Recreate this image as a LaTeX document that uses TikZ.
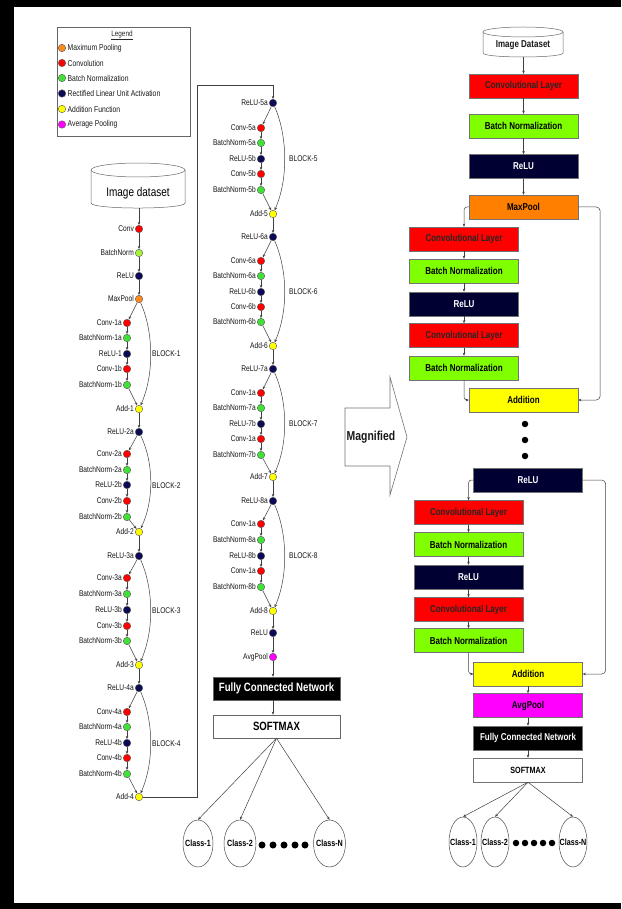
\documentclass[tikz,border=0pt]{standalone}
\usepackage{fontspec}
\setmainfont{Liberation Sans}[FakeStretch=0.8]
\usetikzlibrary{arrows.meta,shapes.geometric}
\definecolor{cRed}{HTML}{FF0000}
\definecolor{cGrn}{HTML}{44E03A}
\definecolor{cYG}{HTML}{A6F23A}
\definecolor{cNavy}{HTML}{0A0A55}
\definecolor{cOrg}{HTML}{FF8A1C}
\definecolor{cYel}{HTML}{FFFF00}
\definecolor{cMag}{HTML}{FF00FF}
\definecolor{bGrn}{HTML}{80FF00}
\definecolor{bNavy}{HTML}{000033}
\definecolor{bOrg}{HTML}{FF8000}
\newcommand\mknode[5]{\node[dot,fill=#4,label={[lb]left:#5}] (#1) at (#2,#3) {};}
\begin{document}
\begin{tikzpicture}[x=1pt,y=-1pt,
  dot/.style={circle,draw=black!65,line width=0.4pt,minimum size=7.5pt,inner sep=0pt},
  lb/.style={font=\fontsize{8.3}{9}\selectfont,text=black!92,inner sep=1pt},
  arr/.style={draw=black!75,line width=0.5pt,-{Stealth[length=3.2pt,width=2.6pt]}},
  box/.style={draw=black!55,line width=0.4pt,minimum width=109pt,minimum height=24pt,inner sep=0pt,font=\fontsize{10}{11}\selectfont\bfseries},
  cls/.style={ellipse,draw=black!70,line width=0.5pt,fill=white,inner xsep=-4pt,inner ysep=0pt,font=\fontsize{9}{10}\selectfont\bfseries},
  blk/.style={circle,fill=black,inner sep=0pt},
  cyl/.style={draw=black!60,line width=0.5pt,fill=white}
]
% frame
\fill[black] (0,0) rectangle (621,909);
\fill[white] (14,7) rectangle (621,903);

% legend
\draw[draw=black!60,line width=0.5pt] (57,27) rectangle (190,136);
\node[font=\fontsize{8}{9}\selectfont,text=black!85] (legt) at (122,35) {\underline{Legend}};
\foreach \yy/\cc/\tt [count=\i] in {48/cOrg/Maximum Pooling,63/cRed/Convolution,78/cGrn/Batch Normalization,93.5/cNavy/Rectified Linear Unit Activation,109/cYel/Addition Function,124.5/cMag/Average Pooling}{
  \node[dot,fill=\cc,minimum size=7.5pt] (lgd\i) at (62,\yy) {};
  \node[anchor=west,inner sep=0pt,font=\fontsize{8.5}{9}\selectfont,text=black!90] (lgt\i) at (67.5,\yy) {\tt};
}

% left cylinder
\draw[cyl] (91,170) -- (91,203) .. controls (91,209.7) and (185,209.7) .. (185,203) -- (185,170);
\draw[cyl] (138,170) ellipse[x radius=47,y radius=7];
\node[font=\fontsize{12.5}{13}\selectfont,text=black] (ds) at (138,193) {Image dataset};
\coordinate (dsb) at (139,208);

% left column
\mknode{conv0}{139}{229}{cRed}{Conv}
\mknode{bn0}{139}{253}{cYG}{BatchNorm}
\mknode{relu0}{139}{276}{cNavy}{ReLU}
\mknode{mp}{139}{299}{cOrg}{MaxPool}
\mknode{b1c1}{127}{323}{cRed}{Conv-1a}
\mknode{b1n1}{127}{338}{cGrn}{BatchNorm-1a}
\mknode{b1r}{127}{354}{cNavy}{ReLU-1}
\mknode{b1c2}{127}{369}{cRed}{Conv-1b}
\mknode{b1n2}{127}{385}{cGrn}{BatchNorm-1b}
\mknode{add1}{139}{409}{cYel}{Add-1}
\mknode{r2a}{139}{432}{cNavy}{ReLU-2a}
\mknode{b2c1}{127}{454}{cRed}{Conv-2a}
\mknode{b2n1}{127}{470}{cGrn}{BatchNorm-2a}
\mknode{b2r}{127}{485}{cNavy}{ReLU-2b}
\mknode{b2c2}{127}{501}{cRed}{Conv-2b}
\mknode{b2n2}{127}{517}{cGrn}{BatchNorm-2b}
\mknode{add2}{139}{532}{cYel}{Add-2}
\mknode{r3a}{139}{556}{cNavy}{ReLU-3a}
\mknode{b3c1}{127}{578}{cRed}{Conv-3a}
\mknode{b3n1}{127}{594}{cGrn}{BatchNorm-3a}
\mknode{b3r}{127}{610}{cNavy}{ReLU-3b}
\mknode{b3c2}{127}{626}{cRed}{Conv-3b}
\mknode{b3n2}{127}{641}{cGrn}{BatchNorm-3b}
\mknode{add3}{139}{665}{cYel}{Add-3}
\mknode{r4a}{139}{688}{cNavy}{ReLU-4a}
\mknode{b4c1}{127}{712}{cRed}{Conv-4a}
\mknode{b4n1}{127}{727}{cGrn}{BatchNorm-4a}
\mknode{b4r}{127}{743}{cNavy}{ReLU-4b}
\mknode{b4c2}{127}{758}{cRed}{Conv-4b}
\mknode{b4n2}{127}{774}{cGrn}{BatchNorm-4b}
\mknode{add4}{139}{797}{cYel}{Add-4}

\node[lb,anchor=west] (blk1) at (151,354) {BLOCK-1};
\node[lb,anchor=west] (blk2) at (151,486) {BLOCK-2};
\node[lb,anchor=west] (blk3) at (151,611) {BLOCK-3};
\node[lb,anchor=west] (blk4) at (151,744) {BLOCK-4};

% second column
\mknode{r5a}{273}{103}{cNavy}{ReLU-5a}
\mknode{b5c1}{261}{128}{cRed}{Conv-5a}
\mknode{b5n1}{261}{143}{cGrn}{BatchNorm-5a}
\mknode{b5r}{261}{159}{cNavy}{ReLU-5b}
\mknode{b5c2}{261}{174}{cRed}{Conv-5b}
\mknode{b5n2}{261}{190}{cGrn}{BatchNorm-5b}
\mknode{add5}{273}{214}{cYel}{Add-5}
\mknode{r6a}{273}{237}{cNavy}{ReLU-6a}
\mknode{b6c1}{261}{261}{cRed}{Conv-6a}
\mknode{b6n1}{261}{276}{cGrn}{BatchNorm-6a}
\mknode{b6r}{261}{292}{cNavy}{ReLU-6b}
\mknode{b6c2}{261}{307}{cRed}{Conv-6b}
\mknode{b6n2}{261}{322}{cGrn}{BatchNorm-6b}
\mknode{add6}{273}{346}{cYel}{Add-6}
\mknode{r7a}{273}{369}{cNavy}{ReLU-7a}
\mknode{b7c1}{261}{393}{cRed}{Conv-1a}
\mknode{b7n1}{261}{408}{cGrn}{BatchNorm-7a}
\mknode{b7r}{261}{424}{cNavy}{ReLU-7b}
\mknode{b7c2}{261}{439}{cRed}{Conv-1a}
\mknode{b7n2}{261}{455}{cGrn}{BatchNorm-7b}
\mknode{add7}{273}{477}{cYel}{Add-7}
\mknode{r8a}{273}{501}{cNavy}{ReLU-8a}
\mknode{b8c1}{261}{524}{cRed}{Conv-1a}
\mknode{b8n1}{261}{540}{cGrn}{BatchNorm-8a}
\mknode{b8r}{261}{556}{cNavy}{ReLU-8b}
\mknode{b8c2}{261}{571}{cRed}{Conv-1a}
\mknode{b8n2}{261}{587}{cGrn}{BatchNorm-8b}
\mknode{add8}{273}{611}{cYel}{Add-8}
\mknode{rfin}{273}{633}{cNavy}{ReLU}
\mknode{avg}{273}{657}{cMag}{AvgPool}

\node[lb,anchor=west] (blk5) at (288,159) {BLOCK-5};
\node[lb,anchor=west] (blk6) at (288,292) {BLOCK-6};
\node[lb,anchor=west] (blk7) at (288,424) {BLOCK-7};
\node[lb,anchor=west] (blk8) at (288,556) {BLOCK-8};

\node[fill=black,draw=black!60,minimum width=127pt,minimum height=23pt,inner sep=0pt,text=white,font=\fontsize{12}{13}\selectfont\bfseries] (fcn) at (276.5,688.5) {Fully Connected Network};
\node[fill=white,draw=black!60,line width=0.5pt,minimum width=127pt,minimum height=23pt,inner sep=0pt,font=\fontsize{12}{13}\selectfont\bfseries] (smx) at (276.5,726.5) {SOFTMAX};

\node[cls,minimum width=30pt,minimum height=47pt] (cl1) at (198,843.5) {Class-1};
\node[cls,minimum width=32pt,minimum height=47pt] (cl2) at (240,843.5) {Class-2};
\node[cls,minimum width=32pt,minimum height=47pt] (cln) at (329.5,843.5) {Class-N};
\foreach \xx [count=\i] in {262,273,284,295,305}{\node[blk,minimum size=7pt] (ldot\i) at (\xx,845) {};}

% left connectors
\draw[arr] (dsb) -- (conv0);
\foreach \a/\b in {conv0/bn0,bn0/relu0,relu0/mp,mp/b1c1,b1c1/b1n1,b1n1/b1r,b1r/b1c2,b1c2/b1n2,b1n2/add1,add1/r2a,
  r2a/b2c1,b2c1/b2n1,b2n1/b2r,b2r/b2c2,b2c2/b2n2,b2n2/add2,add2/r3a,
  r3a/b3c1,b3c1/b3n1,b3n1/b3r,b3r/b3c2,b3c2/b3n2,b3n2/add3,add3/r4a,
  r4a/b4c1,b4c1/b4n1,b4n1/b4r,b4r/b4c2,b4c2/b4n2,b4n2/add4,
  r5a/b5c1,b5c1/b5n1,b5n1/b5r,b5r/b5c2,b5c2/b5n2,b5n2/add5,add5/r6a,
  r6a/b6c1,b6c1/b6n1,b6n1/b6r,b6r/b6c2,b6c2/b6n2,b6n2/add6,add6/r7a,
  r7a/b7c1,b7c1/b7n1,b7n1/b7r,b7r/b7c2,b7c2/b7n2,b7n2/add7,add7/r8a,
  r8a/b8c1,b8c1/b8n1,b8n1/b8r,b8r/b8c2,b8c2/b8n2,b8n2/add8,add8/rfin,rfin/avg}
  {\draw[arr] (\a) -- (\b);}
\foreach \a/\b/\h in {mp/add1/34,r2a/add2/31,r3a/add3/34,r4a/add4/34,r5a/add5/34,r6a/add6/34,r7a/add7/34,r8a/add8/34}
  {\draw[arr] (\a) .. controls +(15,\h) and +(15,-\h) .. (\b);}
\draw[arr] (add4.east) -- (197,797) -- (197,85) -- (273,85) -- (r5a.north);
\draw[arr] (avg) -- (avg |- fcn.north);
\draw[arr] (fcn.south -| avg) -- (smx.north -| avg);
\foreach \c in {cl1,cl2,cln}{\draw[arr] (smx.south) -- (\c.north);}

% magnified arrow
\draw[draw=black!55,line width=0.6pt,fill=white] (345,408) -- (390,408) -- (390,377) -- (407,437) -- (390,495) -- (390,466) -- (345,466) -- cycle;
\node[font=\fontsize{13}{14}\selectfont\bfseries,text=black!90] (magn) at (371,437) {Magnified};

% right cylinder
\draw[cyl] (483,32) -- (483,53) .. controls (483,58.3) and (563,58.3) .. (563,53) -- (563,32);
\draw[cyl] (523,32) ellipse[x radius=40,y radius=5];
\node[font=\fontsize{10}{11}\selectfont\bfseries,text=black!90] (rds) at (523,45) {Image Dataset};
\coordinate (rdsb) at (523.5,57);

% right boxes
\node[box,fill=cRed,text=black!85] (rc0) at (523.5,86) {Convolutional Layer};
\node[box,fill=bGrn] (rb0) at (523.5,126) {Batch Normalization};
\node[box,fill=bNavy,text=white] (rr0) at (523.5,166.5) {ReLU};
\node[box,fill=bOrg] (rmp) at (523.5,207) {MaxPool};
\node[box,fill=cRed,text=black!85] (rc1) at (464,239) {Convolutional Layer};
\node[box,fill=bGrn] (rb1) at (464,271) {Batch Normalization};
\node[box,fill=bNavy,text=white] (rr1) at (464,304) {ReLU};
\node[box,fill=cRed,text=black!85] (rc2) at (464,335.5) {Convolutional Layer};
\node[box,fill=bGrn] (rb2) at (464,368) {Batch Normalization};
\node[box,fill=cYel] (ra1) at (523.5,400) {Addition};
\foreach \yy [count=\i] in {424,440,456}{\node[blk,minimum size=6.5pt] (rdot\i) at (525,\yy) {};}
\node[box,fill=bNavy,text=white] (rr2) at (528,480) {ReLU};
\node[box,fill=cRed,text=black!85] (rc3) at (468.5,512.5) {Convolutional Layer};
\node[box,fill=bGrn] (rb3) at (468.5,544.5) {Batch Normalization};
\node[box,fill=bNavy,text=white] (rr3) at (468.5,577) {ReLU};
\node[box,fill=cRed,text=black!85] (rc4) at (468.5,609.5) {Convolutional Layer};
\node[box,fill=bGrn] (rb4) at (468.5,640.5) {Batch Normalization};
\node[box,fill=cYel] (ra2) at (528,674) {Addition};
\node[box,fill=cMag] (ravg) at (528,705.5) {AvgPool};
\node[box,fill=black,text=white] (rfcn) at (528,738) {Fully Connected Network};
\node[box,fill=white,font=\fontsize{9}{10}\selectfont\bfseries] (rsmx) at (528,770) {SOFTMAX};

\node[cls,minimum width=28pt,minimum height=50pt] (rcl1) at (463,842) {Class-1};
\node[cls,minimum width=28pt,minimum height=50pt] (rcl2) at (495,842) {Class-2};
\node[cls,minimum width=28pt,minimum height=50pt] (rcln) at (573,842) {Class-N};
\foreach \xx [count=\i] in {516,525,534,543,552}{\node[blk,minimum size=6.5pt] (rd\i) at (\xx,843) {};}

% right connectors
\draw[arr] (rdsb) -- (rc0);
\foreach \a/\b in {rc0/rb0,rb0/rr0,rr0/rmp,rc1/rb1,rb1/rr1,rr1/rc2,rc2/rb2,rc3/rb3,rb3/rr3,rr3/rc4,rc4/rb4,ra2/ravg,ravg/rfcn,rfcn/rsmx}
  {\draw[arr] (\a) -- (\b);}
\draw[arr,rounded corners=4pt] (rmp.east) -- ++(22,0) |- (ra1.east);
\draw[arr,rounded corners=3pt] (rmp.west) -| (rc1.north);
\draw[arr,rounded corners=3pt] (rb2.south) |- (ra1.west);
\draw[arr,rounded corners=4pt] (rr2.east) -- ++(23,0) |- (ra2.east);
\draw[arr,rounded corners=3pt] (rr2.west) -| (rc3.north);
\draw[arr,rounded corners=3pt] (rb4.south) |- (ra2.west);
\foreach \c in {rcl1,rcl2,rcln}{\draw[arr] (rsmx.south) -- (\c.north);}
\end{tikzpicture}
\end{document}
